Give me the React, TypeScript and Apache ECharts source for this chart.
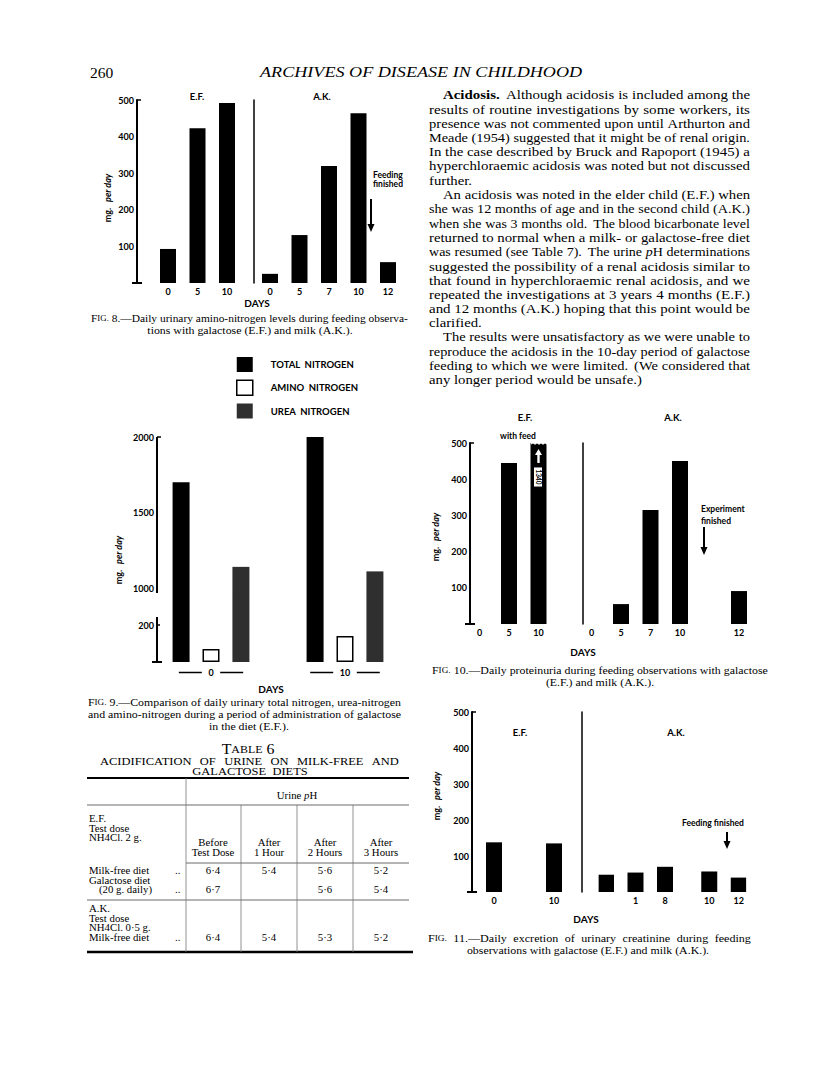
import React, { useEffect, useRef } from 'react';
import * as echarts from 'echarts';

const SERIF = "'Liberation Serif', 'Times New Roman', serif";
const SANS = "Lato, 'Open Sans', 'DejaVu Sans', sans-serif";

// ---------------- data ----------------
// Fig. 8 — daily urinary amino-nitrogen (mg. per day)
const fig8EFDays = ['0', '5', '10'];
const fig8EFValues = [93, 423, 492];
const fig8AKDays = ['0', '5', '7', '10', '12'];
const fig8AKValues = [25, 131, 320, 464, 57];

// Fig. 9 — total / amino / urea nitrogen (mg. per day), broken axis
const fig9Days = ['0', '10'];
const fig9Names = ['TOTAL  NITROGEN', 'AMINO  NITROGEN', 'UREA  NITROGEN'];
const fig9Total = [1700, 2000];
const fig9Amino = [70, 140];
const fig9Urea = [1140, 1110];

// Fig. 10 — daily proteinuria (mg. per day)
const fig10EFDays = ['0', '5', '10'];
const fig10EFValues = [0, 445, 1340];
const fig10AKDays = ['0', '5', '7', '10', '', '12'];
const fig10AKValues: (number | string)[] = [0, 55, 315, 450, '-', 91];

// Fig. 11 — daily urinary creatinine (mg. per day)
const fig11EFDays = ['0', '', '10'];
const fig11EFValues: (number | string)[] = [138, '-', 135];
const fig11AKDays = ['', '', '1', '', '8', '', '', '10', '', '12'];
const fig11AKValues: (number | string)[] = [48, '-', 54, '-', 70, '-', '-', 57, '-', 40];

// Table 6 — urine pH
const table6Columns = [['Before', 'Test Dose'], ['After', '1 Hour'], ['After', '2 Hours'], ['After', '3 Hours']];
const table6EFMilkFree = ['6·4', '5·4', '5·6', '5·2'];
const table6EFGalactose = ['6·7', '', '5·6', '5·4'];
const table6AKMilkFree = ['6·4', '5·4', '5·3', '5·2'];

// ---------------- text helpers ----------------
type Seg = [string, string];
type St = { fontFamily: string; fontSize: number; fontWeight?: string; fontStyle?: string };

const ST: Record<string, St> = {
  hd: { fontFamily: SERIF, fontSize: 15.5 },
  hdi: { fontFamily: SERIF, fontSize: 15.5, fontStyle: 'italic' },
  p: { fontFamily: SERIF, fontSize: 13 },
  pb: { fontFamily: SERIF, fontSize: 13, fontWeight: 'bold' },
  pi: { fontFamily: SERIF, fontSize: 13, fontStyle: 'italic' },
  c: { fontFamily: SERIF, fontSize: 11 },
  cs: { fontFamily: SERIF, fontSize: 8.5 },
  t: { fontFamily: SERIF, fontSize: 9.5 },
  ti: { fontFamily: SERIF, fontSize: 9.5, fontStyle: 'italic' },
  tt: { fontFamily: SERIF, fontSize: 14 },
  tts: { fontFamily: SERIF, fontSize: 10.5 },
  tc: { fontFamily: SERIF, fontSize: 11 },
  s: { fontFamily: SANS, fontSize: 9.5, fontWeight: 'bold' },
  sd: { fontFamily: SANS, fontSize: 10, fontWeight: 'bold' },
  sm: { fontFamily: SANS, fontSize: 8.5, fontWeight: 'bold' },
  yb: { fontFamily: SANS, fontSize: 9, fontWeight: 'bold' },
  yi: { fontFamily: SANS, fontSize: 9, fontWeight: 'bold', fontStyle: 'italic' },
};

let measureCtx: CanvasRenderingContext2D | null = null;
function fontOf(s: St) {
  return `${s.fontStyle || 'normal'} ${s.fontWeight || 'normal'} ${s.fontSize}px ${s.fontFamily}`;
}
function mw(t: string, k: string) {
  if (!measureCtx) measureCtx = document.createElement('canvas').getContext('2d');
  measureCtx!.font = fontOf(ST[k]);
  return measureCtx!.measureText(t).width;
}
function natural(segs: Seg[]) {
  return segs.reduce((a, [t, k]) => a + mw(t, k), 0);
}
function richOf(keys: string[]) {
  const r: Record<string, any> = {};
  keys.forEach((k) => (r[k] = { ...ST[k], fill: '#000' }));
  return r;
}
function textEl(segs: Seg[], x: number, y: number, align: string, sx = 1, rotation = 0) {
  const keys = Array.from(new Set(segs.map((s) => s[1])));
  return {
    type: 'text', x, y, scaleX: sx, rotation, silent: true, z: 10,
    style: {
      text: segs.map(([t, k]) => `{${k}|${t}}`).join(''),
      rich: richOf(keys), ...ST[keys[0]], fill: '#000', align, verticalAlign: 'middle',
    },
  };
}
const spWeight = (n: number) => 1 + 0.6 * (n - 1);
function justEl(segs: Seg[], x0: number, x1: number, y: number, cap: number) {
  const W = x1 - x0;
  const toks: { t?: string; n?: number; k: string }[] = [];
  segs.forEach(([t, k]) =>
    t.split(/( +)/).forEach((p) => {
      if (!p) return;
      if (p.trim() === '') toks.push({ n: p.length, k });
      else toks.push({ t: p, k });
    })
  );
  let words = 0;
  let nsp = 0;
  toks.forEach((tk) => {
    if (tk.t) words += mw(tk.t, tk.k);
    else nsp += spWeight(tk.n!);
  });
  const N = natural(segs);
  const sx = Math.min(W / N, cap);
  const gap = nsp ? (W / sx - words) / nsp : 0;
  const rich = richOf(Array.from(new Set(segs.map((s) => s[1]))));
  let text = '';
  toks.forEach((tk) => {
    if (tk.t) text += `{${tk.k}|${tk.t}}`;
    else {
      const key = 'sp' + tk.n;
      rich[key] = { ...ST[tk.k], width: gap * spWeight(tk.n!), fill: '#000' };
      text += `{${key}| }`;
    }
  });
  return {
    type: 'text', x: x0, y, scaleX: sx, silent: true, z: 10,
    style: { text, rich, ...ST[segs[0][1]], fill: '#000', align: 'left', verticalAlign: 'middle' },
  };
}
function ln(x1: number, y1: number, x2: number, y2: number, w = 1, c = '#000') {
  return { type: 'line', silent: true, z: 10, shape: { x1, y1, x2, y2 }, style: { stroke: c, lineWidth: w } };
}
function arrow(x: number, y1: number, y2: number, c = '#000') {
  return [
    ln(x, y1, x, y2 - 6, 2, c),
    { type: 'polygon', silent: true, z: 10, shape: { points: [[x - 3.5, y2 - 8], [x + 3.5, y2 - 8], [x, y2]] }, style: { fill: c } },
  ];
}
function yName(x: number, y: number) {
  return textEl([['mg.', 'yb'], ['   per day', 'yi']], x, y, 'center', 1, Math.PI / 2);
}

// paragraph (right column)
const PARA: { s: Seg[]; ind?: boolean; j: boolean }[] = [
  { s: [['Acidosis.', 'pb'], ['  Although acidosis is included among the', 'p']], ind: true, j: true },
  { s: [['results of routine investigations by some workers, its', 'p']], j: true },
  { s: [['presence was not commented upon until Arthurton and', 'p']], j: true },
  { s: [['Meade (1954) suggested that it might be of renal origin.', 'p']], j: true },
  { s: [['In the case described by Bruck and Rapoport (1945) a', 'p']], j: true },
  { s: [['hyperchloraemic acidosis was noted but not discussed', 'p']], j: true },
  { s: [['further.', 'p']], j: false },
  { s: [['An acidosis was noted in the elder child (E.F.) when', 'p']], ind: true, j: true },
  { s: [['she was 12 months of age and in the second child (A.K.)', 'p']], j: true },
  { s: [['when she was 3 months old.  The blood bicarbonate level', 'p']], j: true },
  { s: [['returned to normal when a milk- or galactose-free diet', 'p']], j: true },
  { s: [['was resumed (see Table 7).  The urine ', 'p'], ['p', 'pi'], ['H determinations', 'p']], j: true },
  { s: [['suggested the possibility of a renal acidosis similar to', 'p']], j: true },
  { s: [['that found in hyperchloraemic renal acidosis, and we', 'p']], j: true },
  { s: [['repeated the investigations at 3 years 4 months (E.F.)', 'p']], j: true },
  { s: [['and 12 months (A.K.) hoping that this point would be', 'p']], j: true },
  { s: [['clarified.', 'p']], j: false },
  { s: [['The results were unsatisfactory as we were unable to', 'p']], ind: true, j: true },
  { s: [['reproduce the acidosis in the 10-day period of galactose', 'p']], j: true },
  { s: [['feeding to which we were limited.  (We considered that', 'p']], j: true },
  { s: [['any longer period would be unsafe.)', 'p']], j: false },
];

const fig = (n: string, rest: string): Seg[] => [['F', 'c'], ['IG.', 'cs'], [` ${n}.—${rest}`, 'c']];

function median(a: number[]) {
  const s = [...a].sort((x, y) => x - y);
  const m = Math.floor(s.length / 2);
  return s.length % 2 ? s[m] : (s[m - 1] + s[m]) / 2;
}

function buildGraphics() {
  const g: any[] = [];
  // header
  g.push(textEl([['260', 'hd']], 90, 72, 'left', 1));
  g.push(justEl([['ARCHIVES OF DISEASE IN CHILDHOOD', 'hdi']], 260, 582, 72, 5));

  // paragraph
  const PX0 = 429, PX1 = 750, IND = 14, PY0 = 95, PDY = 14.25;
  const ratios = PARA.filter((l) => l.j).map((l) => (PX1 - PX0 - (l.ind ? IND : 0)) / natural(l.s));
  const PS = median(ratios);
  PARA.forEach((l, i) => {
    const x0 = PX0 + (l.ind ? IND : 0);
    const y = PY0 + i * PDY;
    if (l.j) g.push(justEl(l.s, x0, PX1, y, PS * 1.02));
    else g.push(textEl(l.s, x0, y, 'left', PS));
  });

  // captions
  const capJ: [Seg[], number, number, number][] = [
    [fig('8', 'Daily urinary amino-nitrogen levels during feeding observa-'), 91, 408, 318],
    [fig('9', 'Comparison of daily urinary total nitrogen, urea-nitrogen'), 88, 401, 702],
    [[['and amino-nitrogen during a period of administration of galactose', 'c']], 88, 401, 714],
    [fig('11', 'Daily excretion of urinary creatinine during feeding'), 428, 751, 938],
  ];
  const CS = median(capJ.map(([s, a, b]) => (b - a) / natural(s)));
  capJ.forEach(([s, a, b, y]) => g.push(justEl(s, a, b, y, CS * 1.02)));
  g.push(textEl([['tions with galactose (E.F.) and milk (A.K.).', 'c']], 250, 330, 'center', CS));
  g.push(textEl([['in the diet (E.F.).', 'c']], 249, 726, 'center', CS));
  g.push(textEl(fig('10', 'Daily proteinuria during feeding observations with galactose'), 600, 670, 'center', CS));
  g.push(textEl([['(E.F.) and milk (A.K.).', 'c']], 600, 682, 'center', CS));
  g.push(textEl([['observations with galactose (E.F.) and milk (A.K.).', 'c']], 588, 950, 'center', CS));

  // Fig 8 annotations
  g.push(textEl([['E.F.', 's']], 197, 96, 'center'));
  g.push(textEl([['A.K.', 's']], 322, 96, 'center'));
  g.push(textEl([['Feeding', 'sm']], 373, 175, 'left'));
  g.push(textEl([['finished', 'sm']], 373, 184, 'left'));
  g.push(...arrow(371, 199, 232));
  g.push(textEl([['DAYS', 'sd']], 257, 303, 'center'));
  g.push(yName(107, 198));
  g.push(ln(132, 283, 142, 283, 2), ln(137, 100, 141, 100, 1.5));

  // Fig 9 broken axis + annotations
  g.push(ln(157, 437, 157, 593, 2), ln(157, 617, 157, 662, 2));
  g.push(ln(157, 437, 161, 437, 1.5), ln(157, 625, 160, 625, 1.5), ln(152, 662, 162, 662, 2));
  g.push(yName(118, 560));
  g.push(textEl([['DAYS', 'sd']], 271, 689, 'center'));

  // Table 6
  g.push(textEl([['T', 'tt'], ['ABLE', 'tts'], [' 6', 'tt']], 248, 749, 'center', PS));
  g.push(justEl([['ACIDIFICATION  OF  URINE  ON  MILK-FREE  AND', 'tc']], 100, 399, 762, PS));
  g.push(textEl([['GALACTOSE  DIETS', 'tc']], 250, 772, 'center', PS));
  g.push(ln(87, 778, 409, 778, 2.2));
  g.push(ln(87, 805, 409, 805, 0.8, '#444'));
  g.push(ln(186, 863, 409, 863, 0.8, '#444'));
  g.push(ln(87, 900, 409, 900, 0.8, '#444'));
  g.push(ln(87, 952, 413, 952, 2.6));
  g.push(ln(186, 778, 186, 952, 0.8, '#777'));
  [241, 297, 353].forEach((x) => g.push(ln(x, 805, x, 952, 0.8, '#777')));
  const TCX = [213, 269, 325, 381];
  g.push(textEl([['Urine ', 't'], ['p', 'ti'], ['H', 't']], 297, 796, 'center', PS));
  g.push(textEl([['E.F.', 't']], 89, 819, 'left', PS));
  g.push(textEl([['Test dose', 't']], 89, 828.5, 'left', PS));
  g.push(textEl([['NH4Cl. 2 g.', 't']], 89, 838, 'left', PS));
  table6Columns.forEach((c, i) => {
    g.push(textEl([[c[0], 't']], TCX[i], 843, 'center', PS));
    g.push(textEl([[c[1], 't']], TCX[i], 853, 'center', PS));
  });
  const row = (vals: string[], y: number) =>
    vals.forEach((v, i) => v && g.push(textEl([[v, 't']], TCX[i], y, 'center', PS)));
  g.push(textEl([['Milk-free diet', 't']], 89, 871, 'left', PS));
  g.push(textEl([['..', 't']], 175, 871, 'left', PS));
  row(table6EFMilkFree, 871);
  g.push(textEl([['Galactose diet', 't']], 89, 880.5, 'left', PS));
  g.push(textEl([['(20 g. daily)', 't']], 99, 890, 'left', PS));
  g.push(textEl([['..', 't']], 175, 890, 'left', PS));
  row(table6EFGalactose, 890);
  g.push(textEl([['A.K.', 't']], 89, 909, 'left', PS));
  g.push(textEl([['Test dose', 't']], 89, 918.5, 'left', PS));
  g.push(textEl([['NH4Cl. 0·5 g.', 't']], 89, 928, 'left', PS));
  g.push(textEl([['Milk-free diet', 't']], 89, 937.5, 'left', PS));
  g.push(textEl([['..', 't']], 175, 937.5, 'left', PS));
  row(table6AKMilkFree, 937.5);

  // Fig 10 annotations
  g.push(textEl([['E.F.', 's']], 525, 417, 'center'));
  g.push(textEl([['with feed', 'sm']], 518, 436, 'center'));
  g.push(textEl([['A.K.', 's']], 673, 417, 'center'));
  g.push(textEl([['Experiment', 'sm']], 701, 509, 'left'));
  g.push(textEl([['finished', 'sm']], 701, 521, 'left'));
  g.push(...arrow(704, 527, 555));
  g.push(textEl([['DAYS', 'sd']], 583, 652, 'center'));
  g.push(yName(435, 537));
  g.push(ln(465, 624, 475, 624, 2), ln(470, 443, 474, 443, 1.5));
  // white arrow & torn top on the off-scale bar
  g.push(
    { type: 'polygon', silent: true, z: 20, shape: { points: [[535, 455], [542, 455], [538.5, 449]] }, style: { fill: '#fff' } },
    { type: 'rect', silent: true, z: 20, shape: { x: 537.3, y: 454, width: 2.4, height: 9 }, style: { fill: '#fff' } },
    {
      type: 'polyline', silent: true, z: 20,
      shape: { points: [[531, 444], [533, 442.8], [535, 444], [537, 442.8], [539, 444], [541, 442.8], [543, 444], [545, 442.8], [547, 444]] },
      style: { stroke: '#fff', lineWidth: 1.2, fill: null },
    }
  );

  // Fig 11 annotations
  g.push(textEl([['E.F.', 's']], 520, 732, 'center'));
  g.push(textEl([['A.K.', 's']], 676, 732, 'center'));
  g.push(textEl([['Feeding finished', 'sm']], 682, 823, 'left'));
  g.push(...arrow(727, 832, 849));
  g.push(textEl([['DAYS', 'sd']], 586, 919, 'center'));
  g.push(yName(436, 796));
  g.push(ln(467, 892, 477, 892, 2), ln(472, 712, 476, 712, 1.5));
  return g;
}

// ---------------- chart option ----------------
const axisFont = { fontFamily: SANS, fontWeight: 'bold', fontSize: 9, color: '#000' };

function xCat(gridIndex: number, data: string[], margin: number, show = true, extra: any = {}) {
  return {
    type: 'category', gridIndex, data,
    axisLine: { show: false }, axisTick: { show: false }, splitLine: { show: false },
    axisLabel: { show, interval: 0, margin, ...axisFont, ...extra },
  };
}
function yVal(gridIndex: number, min: number, max: number, interval: number, offset: number, o: { labels: boolean; line: boolean; lw?: number; fmt?: (v: number) => string }) {
  return {
    type: 'value', gridIndex, min, max, interval, offset,
    splitLine: { show: false }, axisTick: { show: false },
    axisLine: { show: o.line, lineStyle: { color: '#000', width: o.lw ?? 2 } },
    axisLabel: { show: o.labels, margin: 3, formatter: o.fmt || ((v: number) => String(v)), ...axisFont },
  };
}
const hideZero = (v: number) => (v === 0 ? '' : String(v));

function buildOption() {
  const grid = (left: number, top: number, width: number, height: number) => ({ left, top, width, height, containLabel: false, outerBoundsMode: 'none' });
  const black = { color: '#000' };
  const fig9Styles = [{ color: '#000' }, { color: '#fff', borderColor: '#000', borderWidth: 1.5 }, { color: '#2f2f2f' }];
  const fig9Data = [fig9Total, fig9Amino, fig9Urea];
  const FIG10_MAX = 500;
  const fig9Series = (xi: number) =>
    fig9Names.map((name, i) => ({
      type: 'bar', name, xAxisIndex: xi, yAxisIndex: xi, barWidth: 17, barGap: '76%',
      data: fig9Data[i], itemStyle: fig9Styles[i], silent: true, clip: true,
    }));
  const bar = (i: number, data: any[]) => ({ type: 'bar', xAxisIndex: i, yAxisIndex: i, barWidth: 16, data, itemStyle: black, silent: true, clip: true });

  return {
    animation: false,
    backgroundColor: '#fff',
    grid: [
      grid(153.25, 100, 88.5, 183), // 0 fig8 EF
      grid(255.25, 100, 147.5, 183), // 1 fig8 AK
      grid(144, 437, 268, 151), // 2 fig9 upper
      grid(144, 588, 268, 74), // 3 fig9 lower
      grid(464.75, 443, 88.5, 181), // 4 fig10 EF
      grid(576.75, 443, 177, 181), // 5 fig10 AK
      grid(479, 712, 90, 180), // 6 fig11 EF
      grid(598.625, 712, 147.5, 180), // 7 fig11 AK
    ],
    xAxis: [
      xCat(0, fig8EFDays, 4),
      xCat(1, fig8AKDays, 4),
      xCat(2, fig9Days, 4, false),
      xCat(3, fig9Days, 6, true, {
        formatter: (v: string) => `{d|}   ${v}   {d|}`,
        rich: { d: { width: 23, height: 1.5, backgroundColor: '#000', verticalAlign: 'middle' } },
      }),
      xCat(4, fig10EFDays, 4),
      xCat(5, fig10AKDays, 4),
      xCat(6, fig11EFDays, 4),
      xCat(7, fig11AKDays, 4),
    ],
    yAxis: [
      yVal(0, 0, 500, 100, 16.25, { labels: true, line: true, fmt: hideZero }),
      yVal(1, 0, 500, 100, 1.25, { labels: false, line: true, lw: 1.5 }),
      yVal(2, 1000, 2000, 500, -13, { labels: true, line: false }),
      yVal(3, 0, 400, 200, -13, { labels: true, line: false, fmt: (v: number) => (v === 200 ? '200' : '') }),
      yVal(4, 0, FIG10_MAX, 100, -5.25, { labels: true, line: true, fmt: hideZero }),
      yVal(5, 0, FIG10_MAX, 100, -6.25, { labels: false, line: true, lw: 1.5 }),
      yVal(6, 0, 500, 100, 7, { labels: true, line: true, fmt: hideZero }),
      yVal(7, 0, 500, 100, 16.6, { labels: false, line: true, lw: 1.5 }),
    ],
    legend: {
      show: true, orient: 'vertical', left: 231, top: 352, itemWidth: 16, itemHeight: 15, itemGap: 7.5,
      icon: 'rect', selectedMode: false,
      data: fig9Names.map((name, i) => ({ name, itemStyle: fig9Styles[i] })),
      textStyle: { fontFamily: SANS, fontWeight: 'bold', fontSize: 9.5, color: '#000', padding: [0, 0, 0, 13] },
    },
    series: [
      bar(0, fig8EFValues),
      bar(1, fig8AKValues),
      ...fig9Series(2),
      ...fig9Series(3),
      bar(
        4,
        fig10EFValues.map((v) =>
          v > FIG10_MAX
            ? {
                value: v,
                label: {
                  show: true, position: [7.5, 34], rotate: -90, align: 'center', verticalAlign: 'middle',
                  formatter: '{c}', fontFamily: SANS, fontWeight: 'bold', fontSize: 6.5, color: '#000',
                  backgroundColor: '#fff', padding: [1, 2, 0, 2],
                },
              }
            : v
        )
      ),
      bar(5, fig10AKValues),
      bar(6, fig11EFValues),
      bar(7, fig11AKValues),
    ],
    graphic: { elements: buildGraphics() },
  };
}

export default function App() {
  const ref = useRef<HTMLDivElement>(null);
  useEffect(() => {
    const chart = echarts.init(ref.current!, undefined, { renderer: 'svg', width: 816, height: 1071 });
    chart.setOption(buildOption() as any);
    return () => chart.dispose();
  }, []);
  return (
    <div
      ref={ref}
      style={{ position: 'absolute', left: 0, top: 0, width: 816, height: 1071, background: '#fff' }}
    />
  );
}
